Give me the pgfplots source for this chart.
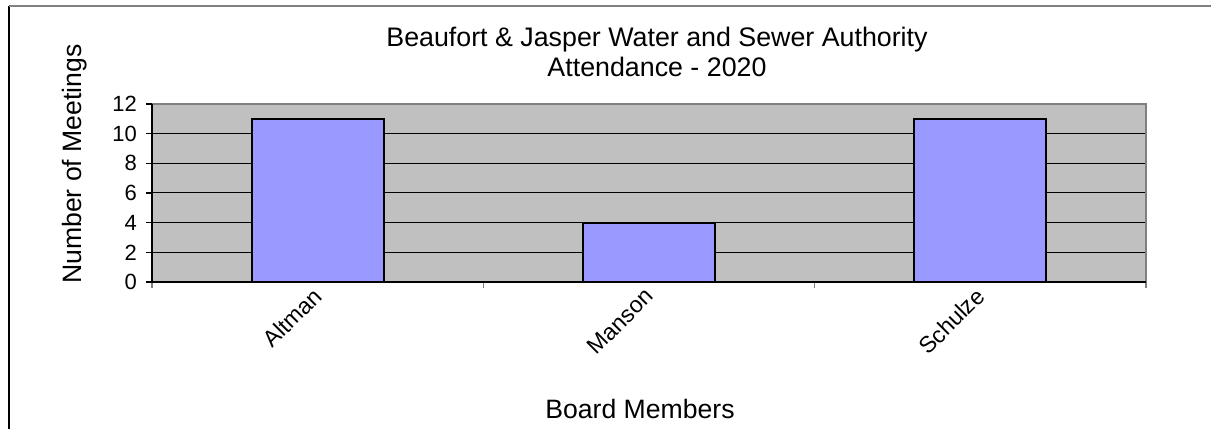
\documentclass[border=0pt]{standalone}
\usepackage{pgfplots}
\pgfplotsset{compat=1.18}
\usepackage{fontspec}
\setmainfont{Liberation Sans}
\definecolor{plotbg}{HTML}{C0C0C0}
\definecolor{barfill}{HTML}{9999FF}
\definecolor{edgegray}{HTML}{808080}
\begin{document}
\begin{tikzpicture}
\useasboundingbox (0,0) rectangle (605.5pt,214.5pt);
\draw[black, line width=0.8pt] (4.5pt,0) -- (4.5pt,211.5pt);
\draw[edgegray, line width=0.8pt] (4.5pt,211.5pt) -- (605.5pt,211.5pt);
\begin{axis}[
  at={(76pt,73.5pt)}, anchor=south west,
  scale only axis, width=497pt, height=89pt,
  xmin=-0.5, xmax=2.5, ymin=0, ymax=12,
  axis background/.style={fill=plotbg},
  axis line style={draw=none},
  tick pos=left,
  ytick={0,2,...,12},
  xtick={0,1,2},
  xticklabels={Altman,Manson,Schulze},
  minor xtick={-0.5,0.5,1.5,2.5},
  major x tick style={draw=none},
  minor x tick style={draw=edgegray, line width=0.7pt},
  y tick style={draw=black, line width=0.6pt},
  tick align=outside,
  major tick length=3pt, minor tick length=3pt,
  ymajorgrids, grid style={black, line width=0.5pt},
  yticklabel style={font=\fontsize{11}{12}\selectfont, xshift=-1pt},
  /pgf/number format/assume math mode=true,
  xticklabel style={font=\fontsize{11.5}{12}\selectfont, rotate=45, anchor=east, yshift=-1.5pt, xshift=2pt},
  clip=false,
]
\addplot[ybar, bar width=66pt, fill=barfill, draw=black, line width=1pt] coordinates {(0,11) (1,4) (2,11)};
\draw[edgegray, line width=0.9pt] (axis cs:-0.5,12) -- (axis cs:2.5,12) -- (axis cs:2.5,0);
\draw[black, line width=0.6pt] (axis cs:-0.5,12) -- (axis cs:-0.5,0) -- (axis cs:2.5,0);
\end{axis}
\node[align=center, font=\fontsize{13.4}{15}\selectfont] at (328.5pt,188.5pt) {Beaufort \& Jasper Water and Sewer Authority\\Attendance - 2020};
\node[rotate=90, font=\fontsize{13.3}{15}\selectfont] at (37.5pt,132.5pt) {Number of Meetings};
\node[font=\fontsize{13.3}{15}\selectfont] at (320pt,10pt) {Board Members};
\end{tikzpicture}
\end{document}
